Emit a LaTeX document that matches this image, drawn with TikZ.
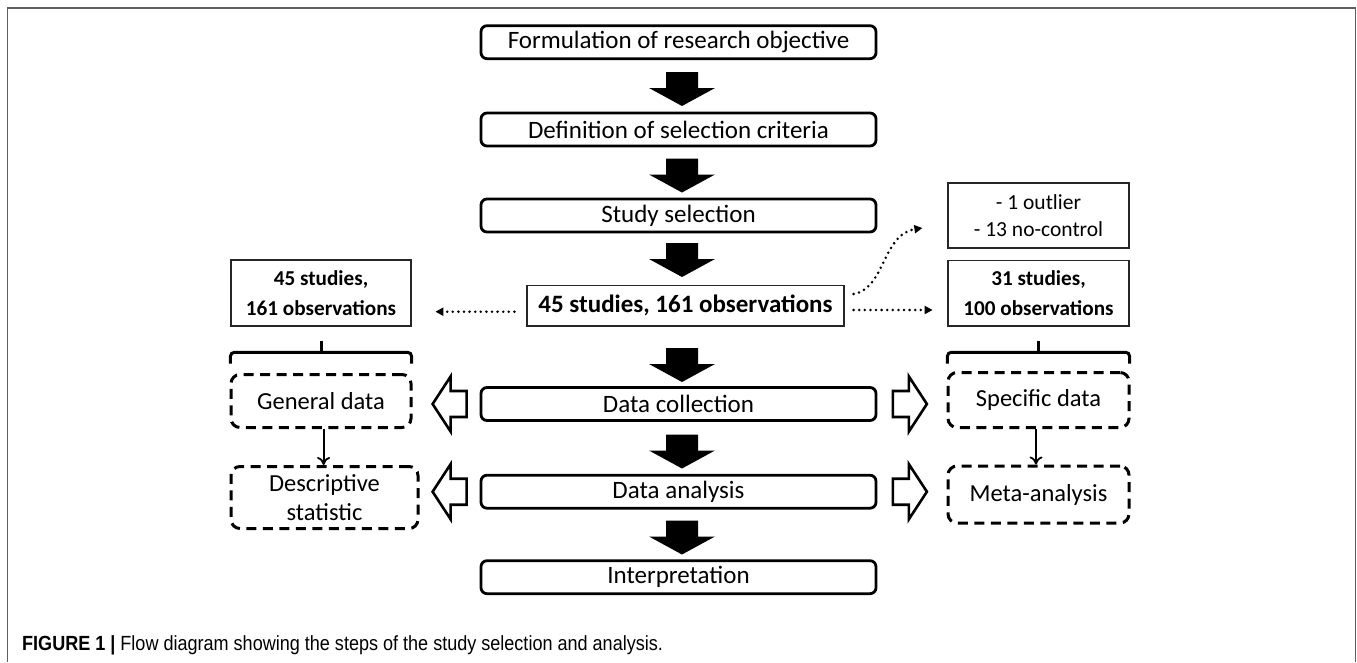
\documentclass[tikz,border=0pt]{standalone}
\usepackage{fontspec}
\setmainfont{Carlito}
\newfontfamily\capfont[FakeStretch=0.88]{Liberation Sans}
\usetikzlibrary{arrows.meta,calc}
\definecolor{framegray}{RGB}{95,95,95}
\tikzset{
  mainbox/.style={draw, line width=2.8pt, rounded corners=6pt, minimum width=395pt, minimum height=33pt, inner sep=0pt, font=\fontsize{25}{30}\selectfont},
  thinbox/.style={draw=black!85, line width=1.2pt, inner sep=0pt, align=center},
  dashbox/.style={draw, line width=3pt, dash pattern=on 10pt off 6.5pt, rounded corners=9pt, inner sep=0pt, align=center, font=\fontsize{24.5}{29}\selectfont},
  dotarrow/.style={line width=2.8pt, dash pattern=on 0pt off 5.6pt, line cap=round, -{Triangle[length=8pt,width=8pt]}},
  bracepath/.style={line width=3pt, rounded corners=4pt},
  thinarrow/.style={line width=1.8pt, -{To[length=8pt,width=13pt,line width=1.8pt]}},
  blockdown/.pic={\fill[black] (-16,-17) -- (16,-17) -- (16,-1) -- (33,-1) -- (0,17) -- (-33,-1) -- (-16,-1) -- cycle;},
  hollowleft/.pic={\draw[line width=2.6pt, fill=white, line join=miter] (0,0) -- (18,-27.5) -- (18,-13) -- (34,-13) -- (34,13) -- (18,13) -- (18,27.5) -- cycle;},
}
\begin{document}
\begin{tikzpicture}[x=1pt,y=-1pt]
\useasboundingbox (0,0) rectangle (1357,662);
% frame
\draw[line width=1.8pt, color=framegray] (7.5,662) -- (7.5,8) -- (1355.5,8) -- (1355.5,662);

% main column
\node[mainbox] (f1) at (678.5,42.2) {Formulation of research objective};
\node[mainbox] (f2) at (678.5,129.5) {Definition of selection criteria};
\node[mainbox] (f3) at (678.5,215.5) {Study selection};
\node[thinbox, minimum width=317pt, minimum height=40.5pt, font=\fontsize{25}{30}\selectfont\bfseries] (mid) at (685.5,305.7) {45 studies, 161 observations};
\node[mainbox] (dc) at (678.5,404) {Data collection};
\node[mainbox] (da) at (678.5,491.7) {Data analysis};
\node[mainbox] (ip) at (678.5,577.2) {Interpretation};

% block arrows
\pic at (682,89) {blockdown};
\pic at (682,175.5) {blockdown};
\pic at (682,260) {blockdown};
\pic at (682,365) {blockdown};
\pic at (682,451.5) {blockdown};
\pic at (682,537.5) {blockdown};

% side boxes
\node[thinbox, minimum width=180pt, minimum height=66pt, font=\fontsize{21.2}{30}\selectfont\bfseries] (lb) at (321,293) {45 studies,\\161 observations};
\node[thinbox, minimum width=181pt, minimum height=65.5pt, font=\fontsize{21.2}{30}\selectfont\bfseries] (rb) at (1038.5,293.2) {31 studies,\\100 observations};
\node[thinbox, minimum width=181pt, minimum height=65pt, font=\fontsize{21.5}{27}\selectfont] (ob) at (1038.5,215.5) {- 1 outlier\\- 13 no-control};

% dotted arrows
\draw[dotarrow] ($(mid.west)+(-12,6)$) -- +(-79,0);
\draw[dotarrow] ($(mid.east)+(9,4.3)$) -- +(79,0);
\draw[dotarrow] ($(mid.east)+(9,-11.7)$) .. controls +(32,-6) and +(-40,6) .. ($(ob.west)+(-25,12.5)$);

% braces
\draw[bracepath] ($(lb.south west)+(0,37)$) -- ($(lb.south west)+(0,25.7)$) -- ($(lb.south east)+(0,25.7)$) -- ($(lb.south east)+(0,37)$);
\draw[line width=3pt] ($(lb.south)+(0,25.7)$) -- ($(lb.south)+(0,14)$);
\draw[bracepath] ($(rb.south west)+(0,37)$) -- ($(rb.south west)+(0,25.7)$) -- ($(rb.south east)+(0,25.7)$) -- ($(rb.south east)+(0,37)$);
\draw[line width=3pt] ($(rb.south)+(0,25.7)$) -- ($(rb.south)+(0,14)$);

% dashed boxes
\node[dashbox, minimum width=180pt, minimum height=53pt] (gd) at (321,401) {General data};
\node[dashbox, minimum width=181pt, minimum height=55pt] (sd) at (1038.5,400) {Specific data};
\node[dashbox, minimum width=187pt, minimum height=62pt] (ds) at (324.5,497.5) {Descriptive\\statistic};
\node[dashbox, minimum width=181pt, minimum height=57pt] (ma) at (1038.5,494.5) {Meta-analysis};

\draw[thinarrow] ($(gd.south)+(2.6,0)$) -- ($(ds.north)+(-0.9,0)$);
\draw[thinarrow] ($(sd.south)+(-2.5,0)$) -- ($(ma.north)+(-2.5,0)$);

% hollow arrows
\pic at ($(dc.west)+(-47,0)$) {hollowleft};
\pic at ($(da.west)+(-47,0)$) {hollowleft};
\pic[xscale=-1] at ($(dc.east)+(49.5,0)$) {hollowleft};
\pic[xscale=-1] at ($(da.east)+(49.5,0)$) {hollowleft};

% caption
\node[anchor=base west, inner sep=0pt, font=\capfont\fontsize{20.5}{22}\selectfont] (cap) at (22,650) {\textbf{FIGURE 1 |} Flow diagram showing the steps of the study selection and analysis.};
\end{tikzpicture}
\end{document}
